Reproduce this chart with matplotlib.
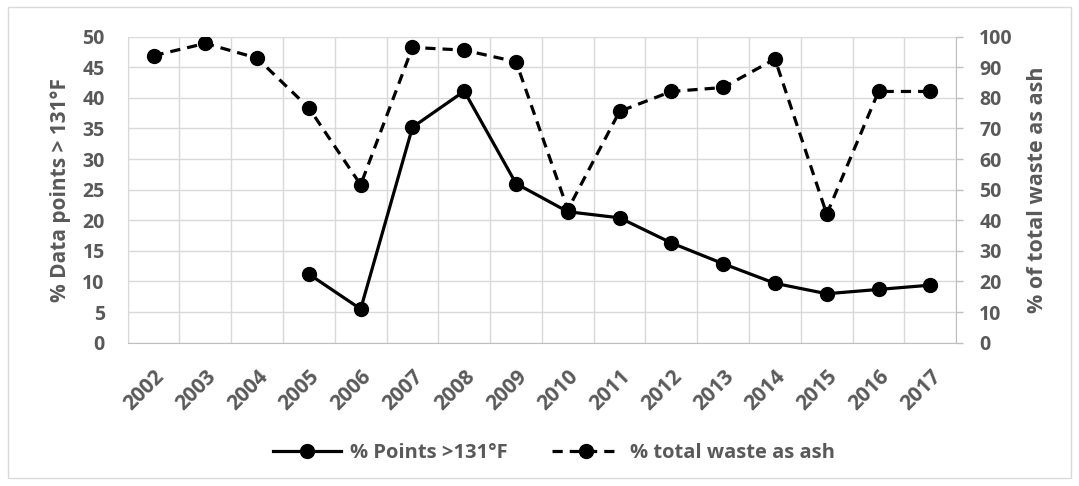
import matplotlib.pyplot as plt
import numpy as np
from matplotlib.patches import Rectangle

# data
years = [str(y) for y in range(2002, 2018)]
pct_points = [np.nan, np.nan, np.nan, 11.2, 5.5, 35.2, 41.1, 26.0,
              21.4, 20.4, 16.3, 12.9, 9.7, 8.0, 8.7, 9.4]
pct_ash = [93.8, 97.8, 93.0, 76.7, 51.6, 96.5, 95.6, 91.8,
           43.5, 75.6, 82.1, 83.4, 92.7, 42.0, 82.1, 82.1]

gray = "#595959"
grid = "#d9d9d9"
axis_col = "#bfbfbf"
font = ["Open Sans", "DejaVu Sans"]
plt.rcParams['font.family'] = font

fig = plt.figure(figsize=(10.79, 4.86), dpi=100)
fig.patches.append(Rectangle((0.007, 0.016), 0.986, 0.97, transform=fig.transFigure,
                             fill=False, edgecolor=grid, linewidth=1))
ax = fig.add_axes([0.1183, 0.2949, 0.7679, 0.6296])
ax2 = ax.twinx()

x = np.arange(len(years))

l1, = ax.plot(x, pct_points, color="black", linewidth=2.3, marker="o",
              markersize=10, label="% Points >131°F", zorder=3)
l2, = ax2.plot(x, pct_ash, color="black", linewidth=2.3, linestyle=(0, (3.2, 2.2)),
               marker="o", markersize=10, label="% total waste as ash", zorder=3)

ax.set_xlim(-0.5, len(years) - 0.5)
ax.set_ylim(0, 50)
ax2.set_ylim(0, 100)
ax.set_yticks(range(0, 51, 5))
ax2.set_yticks(range(0, 101, 10))

ax.set_xticks(x)
ax.set_xticklabels(years, rotation=45, ha="right", rotation_mode="anchor",
                   fontsize=15, fontweight="bold", color=gray)
ax.set_xticks(np.arange(-0.5, len(years)), minor=True)
ax.tick_params(axis="x", which="both", length=0, pad=17)
ax.tick_params(axis="y", length=0, pad=16.5, labelsize=14, labelcolor=gray)
ax2.tick_params(axis="y", length=5, width=1, color=axis_col, pad=11.5,
                labelsize=14, labelcolor=gray)
for lab in ax.get_yticklabels() + ax2.get_yticklabels():
    lab.set_fontweight("bold")

ax.grid(True, which="major", axis="y", color=grid, linewidth=1)
ax.grid(True, which="minor", axis="x", color=grid, linewidth=1)
ax.set_axisbelow(True)

for a in (ax, ax2):
    for s in a.spines.values():
        s.set_visible(False)
ax.spines["bottom"].set_visible(True)
ax.spines["bottom"].set_color(axis_col)
ax.spines["left"].set_visible(True)
ax.spines["left"].set_color(grid)
ax2.spines["right"].set_visible(True)
ax2.spines["right"].set_color(axis_col)

ax.set_ylabel("% Data points > 131°F", fontsize=15, fontweight="bold",
              color=gray, labelpad=8)
ax2.set_ylabel("% of total waste as ash", fontsize=15.5, fontweight="bold",
               color=gray, labelpad=10)

leg = fig.legend(handles=[l1, l2], loc="center", bbox_to_anchor=(0.513, 0.068),
                 ncol=2, frameon=False, handlelength=3.4, handletextpad=0.45,
                 columnspacing=2.2,
                 prop={"family": font, "weight": "bold", "size": 14.5})
for t in leg.get_texts():
    t.set_color(gray)

fig.savefig("out.png", dpi=100)
